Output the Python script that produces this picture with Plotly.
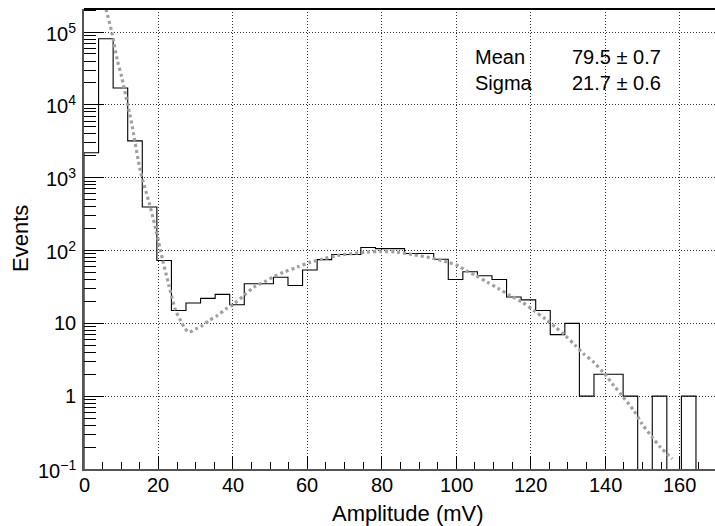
import math
import plotly.graph_objects as go

# ---- data ----
bin_lo = 0.0
bin_width = 3.914
counts = [2200, 81000, 17000, 3200, 395, 73, 15, 19, 22, 25, 18, 35, 35, 43, 33,
          54, 75, 88, 88, 110, 106, 106, 91, 91, 76, 40, 51, 45, 40, 23, 21, 15,
          7, 10, 1, 2, 2, 1, 0, 1, 0, 1, 0, 0]

fit_x = [5.0, 5.83, 7.44, 8.97, 10.12, 11.19, 12.27, 12.99, 15.22, 17.45, 19.25,
         21.05, 22.82, 24.62, 25.96, 27.0, 28.19, 29.99, 31.79, 33.56, 35.81,
         38.12, 40.27, 42.95, 45.64, 48.32, 51.0, 53.7, 57.3, 60.86, 64.4, 68.0,
         71.6, 76.1, 80.0, 84.1, 88.6, 93.1, 97.6, 100.7, 102.5, 105.2, 108.3,
         111.4, 114.5, 117.7, 120.8, 123.9, 126.6, 129.3, 132.0, 134.2, 136.9,
         139.6, 142.3, 144.5, 147.7, 149.9, 152.6, 154.8, 158.0]
fit_y = [295000, 214000, 100000, 40700, 24300, 13500, 7550, 4950, 1190, 462, 199,
         76.9, 33.0, 15.0, 10.9, 8.7, 7.57, 8.39, 9.33, 10.9, 12.8,
         15.8, 18.5, 24.1, 31.4, 36.8, 44.0, 50.5, 59.2, 69.3, 76.9, 85.3,
         90.2, 95.1, 96.8, 95.1, 87.3, 79.4, 69.3, 61.1, 53.1, 45.4, 36.8,
         29.8, 24.1, 19.5, 15.0, 11.5, 8.87, 6.79, 4.95, 3.81, 2.93,
         2.09, 1.40, 1.02, 0.634, 0.417, 0.274, 0.20, 0.138]

x_ticks = [0, 20, 40, 60, 80, 100, 120, 140, 160]
x_ticktext = ["0", "20", "40", "60", "80", "100", "120", "140", "160"]
y_tickvals = [0.1, 1, 10, 100, 1000, 10000, 100000]
y_ticktext = ["10<sup>\u22121</sup>", "1", "10", "10<sup>2</sup>", "10<sup>3</sup>",
              "10<sup>4</sup>", "10<sup>5</sup>"]
stat_names = ["Mean", "Sigma"]
stat_values = ["79.5 \u00b1 0.7", "21.7 \u00b1 0.6"]
x_title = "Amplitude (mV)"
y_title = "Events"

# ---- layout constants ----
W, H = 715, 526
ML, MT, MB = 84, 9, 57
x_range = [0, 169.5]
y_log_range = [-1, 5.316]
FONT = "Liberation Sans, Arial, Helvetica, sans-serif"

# step outline of the histogram (empty bins drop below the axis floor, like ROOT)
floor = 10 ** (y_log_range[0] - 1)
hx = [bin_lo]
hy = [floor]
for i, c in enumerate(counts):
    hx.append(bin_lo + i * bin_width)
    hy.append(c if c > 0 else floor)
hx.append(bin_lo + len(counts) * bin_width)
hy.append(floor)

fig = go.Figure()
fig.add_trace(go.Scatter(x=hx, y=hy, mode="lines", line_shape="hv",
                         line=dict(color="black", width=1.1), hoverinfo="skip"))
fig.add_trace(go.Scatter(x=fit_x, y=fit_y, mode="lines", line_shape="spline",
                         line=dict(color="#a0a0a0", width=3.2, dash="3px,3px", smoothing=0.8),
                         hoverinfo="skip"))

minor_y = []
for d in range(-1, 6):
    for k in range(2, 10):
        minor_y.append(k * 10 ** d)

fig.update_layout(
    width=W, height=H,
    margin=dict(l=ML, r=0, t=MT, b=MB),
    paper_bgcolor="white", plot_bgcolor="white",
    showlegend=False,
    font=dict(family=FONT, size=20, color="black"),
    xaxis=dict(range=x_range, tickmode="array", tickvals=x_ticks,
               ticks="inside", ticklen=13, tickwidth=1, tickcolor="black",
               showline=True, linecolor="#555555", linewidth=1.5,
               showgrid=True, gridcolor="#333333", gridwidth=1, griddash="1px,2px",
               zeroline=False, showticklabels=False,
               minor=dict(tickmode="linear", tick0=0, dtick=5, ticks="inside",
                          ticklen=7, tickcolor="black", tickwidth=1, showgrid=False)),
    yaxis=dict(type="log", range=y_log_range, tickmode="array",
               tickvals=y_tickvals,
               ticks="inside", ticklen=20, tickwidth=1, tickcolor="black",
               showline=True, linecolor="#555555", linewidth=1.5,
               showgrid=True, gridcolor="#333333", gridwidth=1, griddash="1px,2px",
               zeroline=False, showticklabels=False,
               minor=dict(tickmode="array", tickvals=minor_y, ticks="inside",
                          ticklen=12, tickcolor="black", tickwidth=1, showgrid=False)),
    shapes=[dict(type="line", xref="paper", yref="paper", x0=0, x1=1, y0=1, y1=1,
                 line=dict(color="black", width=2))],
)

plot_w = W - ML
plot_h = H - MT - MB
def py(p):  # pixel row -> paper y
    return (H - MB - p) / plot_h
def px(p):  # pixel column -> paper x
    return (p - ML) / plot_w

anns = []
# tick labels placed like ROOT draws them
for v, t in zip(x_ticks, x_ticktext):
    anns.append(dict(text=t, xref="x", yref="paper", x=v, y=py(485),
                     xanchor="center", yanchor="middle", showarrow=False,
                     font=dict(size=20)))
for v, t in zip(y_tickvals, y_ticktext):
    anns.append(dict(text=t, xref="paper", yref="y", x=px(78), y=math.log10(v),
                     xanchor="right", yanchor="middle", showarrow=False,
                     font=dict(size=20)))
anns.append(dict(text=x_title, xref="x", yref="paper", x=87.0, y=py(513),
                 xanchor="center", yanchor="middle", showarrow=False,
                 font=dict(size=22)))
anns.append(dict(text=y_title, xref="paper", yref="paper", x=px(20),
                 y=py(239), xanchor="center", yanchor="middle", textangle=-90,
                 showarrow=False, font=dict(size=22)))
for i, (n, v) in enumerate(zip(stat_names, stat_values)):
    yy = py(57 + 26 * i)
    anns.append(dict(text=n, xref="x", yref="paper", x=104.4, y=yy,
                     xanchor="left", yanchor="middle", showarrow=False,
                     font=dict(size=20)))
    anns.append(dict(text=v, xref="x", yref="paper", x=155.5, y=yy,
                     xanchor="right", yanchor="middle", showarrow=False,
                     font=dict(size=20)))
fig.update_layout(annotations=anns)

fig.write_html("out.html")
